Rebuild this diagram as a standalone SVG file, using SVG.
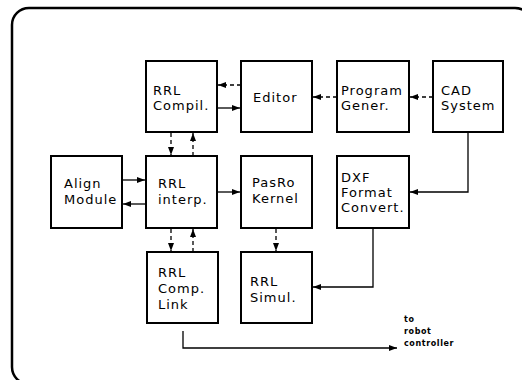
<svg xmlns="http://www.w3.org/2000/svg" width="522" height="380" viewBox="0 0 522 380">
<defs>
<marker id="ah" markerUnits="userSpaceOnUse" markerWidth="8" markerHeight="6" refX="8" refY="3" orient="auto">
<path d="M0,0 L8,3 L0,6 z" fill="#000"/>
</marker>
<style>
.frame{fill:none;stroke:#000;stroke-width:2.5}
.box{fill:#fff;stroke:#000;stroke-width:2}
.lbl{font-family:"DejaVu Sans",sans-serif;font-size:13px;letter-spacing:1px;fill:#000}
.small{font-family:"DejaVu Sans",sans-serif;font-size:8px;font-weight:bold;letter-spacing:0.6px;fill:#000}
.c{fill:none;stroke:#000;stroke-width:1.3;marker-end:url(#ah)}
.d{stroke-dasharray:4,3}
</style>
</defs>
<rect width="522" height="380" fill="#fff"/>
<rect class="frame" x="12" y="8" width="520" height="376" rx="17"/>
<g id="connectors">
<line class="c d" x1="241" y1="85" x2="218" y2="85"/>
<line class="c" x1="217" y1="108" x2="240" y2="108"/>
<line class="c d" x1="337" y1="97" x2="313" y2="97"/>
<line class="c d" x1="433" y1="97" x2="410" y2="97"/>
<path class="c" d="M468,132 V192 H410"/>
<line class="c d" x1="171" y1="133" x2="171" y2="155"/>
<line class="c d" x1="193" y1="156" x2="193" y2="133"/>
<line class="c" x1="122" y1="180" x2="145" y2="180"/>
<line class="c" x1="146" y1="204" x2="123" y2="204"/>
<line class="c" x1="217" y1="192" x2="240" y2="192"/>
<line class="c d" x1="171" y1="229" x2="171" y2="251"/>
<line class="c d" x1="193" y1="252" x2="193" y2="229"/>
<line class="c d" x1="276" y1="229" x2="276" y2="251"/>
<path class="c" d="M373,228 V287 H313"/>
<path class="c" d="M183,331 V348 H397"/>
</g>
<g id="rrl-compil"><rect class="box" x="146" y="61" width="71" height="71"/><text class="lbl" x="153" y="95">RRL</text><text class="lbl" x="153" y="110">Compil.</text></g>
<g id="editor"><rect class="box" x="241" y="61" width="71" height="71"/><text class="lbl" x="253" y="102">Editor</text></g>
<g id="program-gener"><rect class="box" x="337" y="61" width="72" height="71"/><text class="lbl" x="341" y="95">Program</text><text class="lbl" x="341" y="110">Gener.</text></g>
<g id="cad-system"><rect class="box" x="433" y="61" width="70" height="71"/><text class="lbl" x="441" y="95">CAD</text><text class="lbl" x="441" y="110">System</text></g>
<g id="align-module"><rect class="box" x="51" y="156" width="71" height="72"/><text class="lbl" x="64" y="188">Align</text><text class="lbl" x="64" y="204">Module</text></g>
<g id="rrl-interp"><rect class="box" x="146" y="156" width="71" height="72"/><text class="lbl" x="158" y="188">RRL</text><text class="lbl" x="158" y="204">interp.</text></g>
<g id="pasro-kernel"><rect class="box" x="241" y="156" width="71" height="72"/><text class="lbl" x="252" y="187">PasRo</text><text class="lbl" x="252" y="203">Kernel</text></g>
<g id="dxf-convert"><rect class="box" x="337" y="156" width="72" height="72"/><text class="lbl" x="341" y="182">DXF</text><text class="lbl" x="341" y="197">Format</text><text class="lbl" x="341" y="212">Convert.</text></g>
<g id="rrl-comp-link"><rect class="box" x="147" y="252" width="71" height="71"/><text class="lbl" x="158" y="277">RRL</text><text class="lbl" x="158" y="293">Comp.</text><text class="lbl" x="158" y="309">Link</text></g>
<g id="rrl-simul"><rect class="box" x="241" y="252" width="71" height="71"/><text class="lbl" x="250" y="286">RRL</text><text class="lbl" x="250" y="302">Simul.</text></g>
<g id="robot-label"><text class="small" x="404" y="322">to</text><text class="small" x="404" y="334">robot</text><text class="small" x="404" y="346">controller</text></g>
</svg>
